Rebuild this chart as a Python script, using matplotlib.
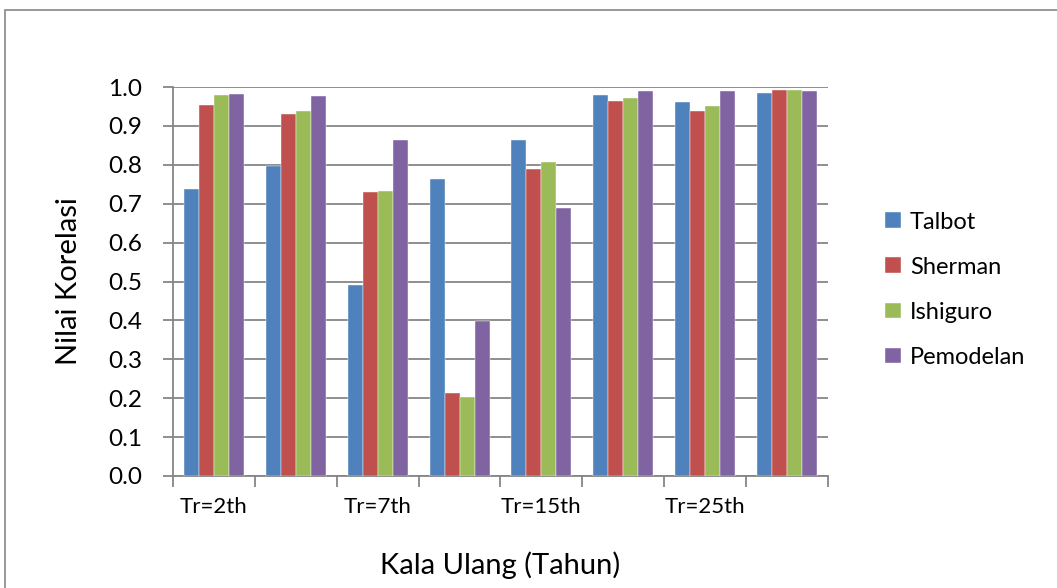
import numpy as np
import matplotlib.pyplot as plt
from matplotlib.patches import Rectangle

plt.rcParams['font.family'] = ['Lato', 'DejaVu Sans']

# Return periods (only every other one is labelled on the axis)
periods = ['Tr=2th', 'Tr=5th', 'Tr=7th', 'Tr=10th', 'Tr=15th', 'Tr=20th', 'Tr=25th', 'Tr=50th']
shown_labels = ['Tr=2th', '', 'Tr=7th', '', 'Tr=15th', '', 'Tr=25th', '']

talbot = [0.738, 0.797, 0.490, 0.763, 0.864, 0.979, 0.961, 0.985]
sherman = [0.954, 0.930, 0.729, 0.213, 0.789, 0.963, 0.938, 0.993]
ishiguro = [0.979, 0.938, 0.732, 0.202, 0.807, 0.971, 0.950, 0.993]
pemodelan = [0.983, 0.976, 0.863, 0.399, 0.688, 0.990, 0.990, 0.990]

series = [('Talbot', talbot, '#4F81BD'),
          ('Sherman', sherman, '#C0504D'),
          ('Ishiguro', ishiguro, '#9BBB59'),
          ('Pemodelan', pemodelan, '#8064A2')]


def main():
    fig = plt.figure(figsize=(10.57, 5.88), dpi=100)
    ax = fig.add_axes([0.1637, 0.1905, 0.6196, 0.6615])

    # outer chart frame
    fig.patches.append(Rectangle((0.005, -0.01), 1.0, 0.993, transform=fig.transFigure,
                                 fill=False, edgecolor='#868686', linewidth=1.2))

    x = np.arange(len(periods))
    width = 0.183
    for i, (name, vals, color) in enumerate(series):
        ax.bar(x + (i - 1.5) * width, vals, width, color=color, label=name,
               edgecolor='white', linewidth=0.3, zorder=3)

    ax.set_xlim(-0.5, len(periods) - 0.5)
    ax.set_ylim(0, 1.0)
    ax.set_yticks(np.arange(0, 1.01, 0.1))
    ax.set_yticklabels(['%.1f' % v for v in np.arange(0, 1.01, 0.1)], fontsize=17.5)
    ax.yaxis.grid(True, color='#868686', linewidth=1.3, zorder=0)

    # category labels at centers, tick marks on the boundaries
    ax.set_xticks(x)
    ax.set_xticklabels(shown_labels, fontsize=16)
    ax.tick_params(axis='x', which='major', length=0, pad=15)
    ax.set_xticks(np.arange(-0.5, len(periods)), minor=True)
    ax.tick_params(axis='x', which='minor', length=8, color='#868686', width=1.3)
    ax.tick_params(axis='y', length=7, color='#868686', width=1.3, pad=15)

    for side in ['top', 'right']:
        ax.spines[side].set_visible(False)
    for side in ['left', 'bottom']:
        ax.spines[side].set_color('#868686')
        ax.spines[side].set_linewidth(1.3)

    ax.set_ylabel('Nilai Korelasi', fontsize=21, labelpad=19)
    ax.set_xlabel('Kala Ulang (Tahun)', fontsize=21, labelpad=25)

    ax.legend(loc='center left', bbox_to_anchor=(1.055, 0.479), frameon=False,
              fontsize=17, handlelength=0.65, handleheight=0.65,
              handletextpad=0.4, labelspacing=1.02)

    fig.savefig('out.png', dpi=100)


if __name__ == '__main__':
    main()
